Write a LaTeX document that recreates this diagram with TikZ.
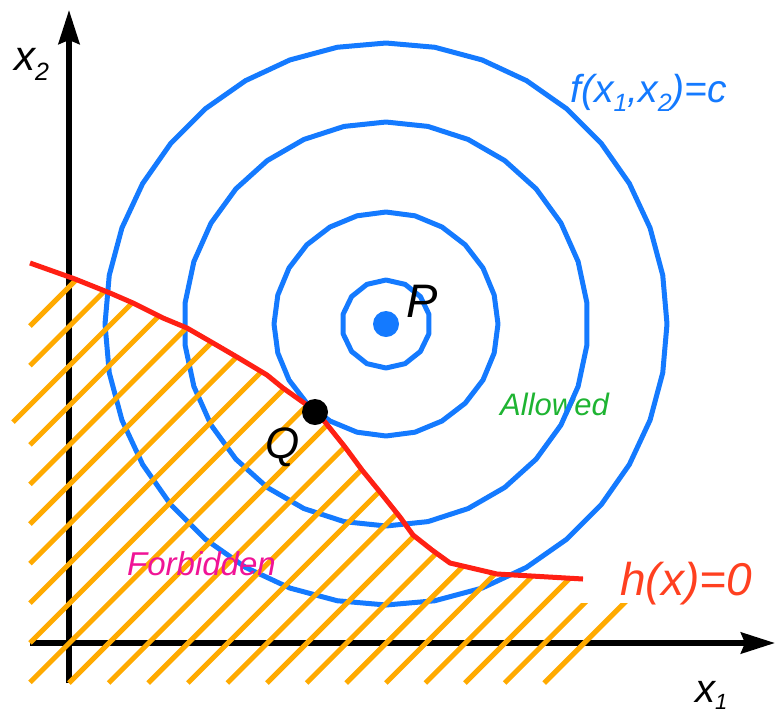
\documentclass[tikz,border=0pt]{standalone}
\usepackage{fontspec}
\setmainfont{Liberation Sans}
\usetikzlibrary{arrows.meta}
\definecolor{cblue}{RGB}{20,122,255}
\definecolor{cred}{RGB}{255,32,20}
\definecolor{corange}{RGB}{255,170,0}
\definecolor{hred}{RGB}{255,64,32}
\definecolor{cgreen}{RGB}{30,180,50}
\definecolor{cmag}{RGB}{240,20,150}
\newcommand{\lowsub}[3]{\raisebox{-#3pt}{\fontsize{#2}{#2}\selectfont #1}}
\begin{document}
\begin{tikzpicture}[x=1pt,y=-1pt,
  axisline/.style={line width=5.5pt,black,-{Stealth[length=34pt,width=21pt,inset=4pt]}},
  contour/.style={line width=5pt,cblue,line join=round},
  constraint/.style={line width=5pt,cred,line join=round},
  hatchline/.style={line width=5pt,corange},
  lbl/.style={inner sep=0pt,anchor=base west,font=\itshape}]
\useasboundingbox (0,0) rectangle (776,713);
\coordinate (P) at (386,324);
\coordinate (Q) at (315,412);
\coordinate (o1) at (69,683);
\coordinate (ytip) at (69,10);
\coordinate (o2) at (30,643);
\coordinate (xtip) at (775,643);
% label under the contour
\node[lbl,text=cgreen,font=\itshape\fontsize{31}{31}\selectfont] (allowed) at (500,415) {Allowed};
% axes
\draw[axisline] (o1) -- (ytip);
\draw[axisline] (o2) -- (xtip);
% contours
\draw[contour] plot[samples=37,domain=90:450] ({386+281*cos(\x)},{324-281*sin(\x)}) -- cycle;
\draw[contour] plot[samples=31,domain=90:450] ({386+202*cos(\x)},{324-202*sin(\x)}) -- cycle;
\draw[contour] plot[samples=25,domain=90:450] ({386+112*cos(\x)},{324-112*sin(\x)}) -- cycle;
\draw[contour] plot[samples=15,domain=90:450] ({386+44*cos(\x)},{324-44*sin(\x)}) -- cycle;
% hatching
\begin{scope}
\clip (0,250) -- (30,263) -- (75,279) -- (110,293) -- (133,303) -- (163,318) -- (187,328) -- (213,343) -- (237,357) -- (267,375) -- (283,388) -- (307,405) -- (325,422) -- (345,447) -- (362,470) -- (380,492) -- (400,517) -- (413,535) -- (432,550) -- (450,563) -- (497,574) -- (575,578.5) -- (575,603) -- (632,603) -- (545,690) -- (0,690) -- cycle;
\foreach \j in {0,...,22}{
  \pgfmathsetmacro\cc{356+39.6*\j}
  \pgfmathsetmacro\sx{\j==2 ? 13 : max(30,\cc-683)}
  \pgfmathsetmacro\sy{\cc-\sx}
  \draw[hatchline] (\sx,\sy) -- ++(700,-700);
}
\end{scope}
% constraint curve
\draw[constraint] (30,263) -- (75,279) -- (110,293) -- (133,303) -- (163,318) -- (187,328) -- (213,343) -- (237,357) -- (267,375) -- (283,388) -- (307,405) -- (325,422) -- (345,447) -- (362,470) -- (380,492) -- (400,517) -- (413,535) -- (432,550) -- (450,563) -- (497,574) -- (583,579);
% points
\fill[cblue] (P) circle[radius=13pt];
\fill[black] (Q) circle[radius=13pt];
% labels
\node[lbl,font=\itshape\fontsize{47}{47}\selectfont] (plabel) at (406,317) {P};
\node[lbl,font=\itshape\fontsize{44}{44}\selectfont] (qlabel) at (265,458) {Q};
\node[lbl,font=\itshape\fontsize{42}{42}\selectfont] (x2label) at (14,70) {x\lowsub{2}{25}{10}};
\node[lbl,font=\itshape\fontsize{40}{40}\selectfont] (x1label) at (695,702) {x\lowsub{1}{22}{7}};
\node[lbl,text=cblue,font=\itshape\fontsize{39}{39}\selectfont] (flabel) at (570,102) {f(x\lowsub{1}{25}{9},x\lowsub{2}{25}{9})=c};
\node[lbl,text=hred,font=\itshape\fontsize{46}{46}\selectfont] (hlabel) at (620,595) {h(x)=0};
\node[lbl,text=cmag,font=\itshape\fontsize{33}{33}\selectfont] (forbidden) at (127,575) {Forbidden};
\end{tikzpicture}
\end{document}
